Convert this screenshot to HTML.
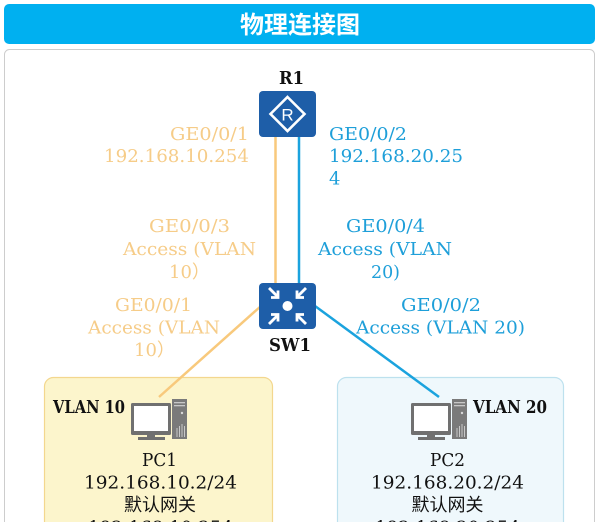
<!DOCTYPE html>
<html>
<head>
<meta charset="utf-8">
<style>
  html, body { margin: 0; padding: 0; background: #ffffff; }
  body { width: 600px; height: 522px; overflow: hidden; }
  svg { display: block; }
  .t { font-family: "DejaVu Serif", "Liberation Serif", "Noto Serif CJK SC", serif; font-size: 18px; }
  .cjk { font-family: "Noto Sans CJK SC", "WenQuanYi Zen Hei", sans-serif; }
</style>
</head>
<body>
<svg width="600" height="522" viewBox="0 0 600 522" xmlns="http://www.w3.org/2000/svg">
  <!-- header -->
  <rect x="4" y="4" width="591" height="40" rx="5" fill="#00b0f0"/>
  <text x="300" y="33" text-anchor="middle" class="cjk" font-size="24" font-weight="bold" fill="#ffffff">物理连接图</text>

  <!-- outer box -->
  <rect x="4.5" y="49.5" width="590" height="490" rx="5" fill="#ffffff" stroke="#cdcdcd" stroke-width="1"/>

  <!-- PC group boxes -->
  <rect x="44.5" y="377.5" width="228" height="200" rx="9" fill="#fcf5cc" stroke="#f3d78e" stroke-width="1.2"/>
  <rect x="337.5" y="377.5" width="226" height="200" rx="9" fill="#eff8fc" stroke="#bde1ee" stroke-width="1.2"/>

  <!-- connectors -->
  <line x1="275.5" y1="137" x2="275.5" y2="284" stroke="#f8c97c" stroke-width="2.5"/>
  <line x1="299" y1="137" x2="299" y2="284" stroke="#1ba3de" stroke-width="2.5"/>
  <line x1="261" y1="306" x2="159" y2="397" stroke="#f8c97c" stroke-width="2.5"/>
  <line x1="315" y1="306" x2="439" y2="397" stroke="#1ba3de" stroke-width="2.5"/>

  <!-- R1 -->
  <text x="279" y="84" class="t" font-size="17" font-weight="bold" fill="#111" textLength="25" lengthAdjust="spacingAndGlyphs">R1</text>
  <rect x="259" y="91" width="57" height="46" rx="4" fill="#1e5ea8"/>
  <polygon points="287.5,97 304.5,114 287.5,131 270.5,114" fill="none" stroke="#ffffff" stroke-width="2.6" stroke-linejoin="miter"/>
  <text x="287.5" y="120.5" text-anchor="middle" font-family="Liberation Sans, sans-serif" font-size="17" fill="#ffffff">R</text>

  <!-- SW1 -->
  <rect x="259" y="283" width="57" height="46" rx="4" fill="#1e5ea8"/>
  <circle cx="287.5" cy="306" r="5" fill="#ffffff"/>
  <g stroke="#ffffff" stroke-width="2.8" fill="none" stroke-linecap="butt">
    <line x1="269" y1="288" x2="278" y2="297"/>
    <polyline points="278,290.5 278,297.5 271,297.5"/>
    <line x1="306" y1="288" x2="297" y2="297"/>
    <polyline points="297,290.5 297,297.5 304,297.5"/>
    <line x1="269" y1="324" x2="278" y2="315"/>
    <polyline points="278,321.5 278,314.5 271,314.5"/>
    <line x1="306" y1="324" x2="297" y2="315"/>
    <polyline points="297,321.5 297,314.5 304,314.5"/>
  </g>
  <text x="269" y="351" class="t" font-size="17" font-weight="bold" fill="#111" textLength="42" lengthAdjust="spacingAndGlyphs">SW1</text>

  <!-- R1 port labels -->
  <g class="t" fill="#f6cc88">
    <text x="170" y="140" textLength="79" lengthAdjust="spacingAndGlyphs">GE0/0/1</text>
    <text x="104" y="162" textLength="145" lengthAdjust="spacingAndGlyphs">192.168.10.254</text>
  </g>
  <g class="t" fill="#1e9fd9">
    <text x="329" y="140" textLength="78" lengthAdjust="spacingAndGlyphs">GE0/0/2</text>
    <text x="329" y="162" textLength="134" lengthAdjust="spacingAndGlyphs">192.168.20.25</text>
    <text x="329" y="184.5">4</text>
  </g>

  <!-- SW1 uplink labels -->
  <g class="t" fill="#f6cc88">
    <text x="149" y="232" textLength="81" lengthAdjust="spacingAndGlyphs">GE0/0/3</text>
    <text x="123" y="255" textLength="133" lengthAdjust="spacingAndGlyphs">Access (VLAN</text>
  </g>
  <text x="169" y="278" class="t" fill="#f6cc88">10<tspan class="cjk">）</tspan></text>
  <g class="t" fill="#1e9fd9">
    <text x="346" y="232" textLength="79" lengthAdjust="spacingAndGlyphs">GE0/0/4</text>
    <text x="318" y="255" textLength="134" lengthAdjust="spacingAndGlyphs">Access (VLAN</text>
    <text x="371" y="278" textLength="29" lengthAdjust="spacingAndGlyphs">20)</text>
  </g>

  <!-- SW1 downlink labels -->
  <g class="t" fill="#f6cc88">
    <text x="115" y="311" textLength="77" lengthAdjust="spacingAndGlyphs">GE0/0/1</text>
    <text x="88" y="333.5" textLength="132" lengthAdjust="spacingAndGlyphs">Access (VLAN</text>
  </g>
  <text x="134" y="356" class="t" fill="#f6cc88">10<tspan class="cjk">）</tspan></text>
  <g class="t" fill="#1e9fd9">
    <text x="401" y="311" textLength="80" lengthAdjust="spacingAndGlyphs">GE0/0/2</text>
    <text x="356" y="333.5" textLength="169" lengthAdjust="spacingAndGlyphs">Access (VLAN 20)</text>
  </g>

  <!-- PC icons -->
  <g>
    <rect x="172" y="399" width="15" height="40" fill="#7a7a7a"/>
    <rect x="174" y="402" width="11" height="1.3" fill="#c8c8c8"/>
    <rect x="174" y="405" width="11" height="1.3" fill="#c8c8c8"/>
    <circle cx="182" cy="413" r="1.2" fill="#d8d8d8"/>
    <g stroke="#c8c8c8" stroke-width="1">
      <line x1="177" y1="428" x2="177" y2="437"/>
      <line x1="179.5" y1="426" x2="179.5" y2="437"/>
      <line x1="182" y1="424" x2="182" y2="437"/>
      <line x1="184.5" y1="426" x2="184.5" y2="437"/>
    </g>
    <rect x="131" y="403" width="40" height="32" rx="1.5" fill="#707070"/>
    <rect x="134" y="406" width="34" height="25" fill="#ffffff"/>
    <rect x="147" y="435" width="8" height="2" fill="#707070"/>
    <rect x="138" y="437" width="27" height="3" fill="#707070"/>
  </g>
  <g transform="translate(280,0)">
    <rect x="172" y="399" width="15" height="40" fill="#7a7a7a"/>
    <rect x="174" y="402" width="11" height="1.3" fill="#c8c8c8"/>
    <rect x="174" y="405" width="11" height="1.3" fill="#c8c8c8"/>
    <circle cx="182" cy="413" r="1.2" fill="#d8d8d8"/>
    <g stroke="#c8c8c8" stroke-width="1">
      <line x1="177" y1="428" x2="177" y2="437"/>
      <line x1="179.5" y1="426" x2="179.5" y2="437"/>
      <line x1="182" y1="424" x2="182" y2="437"/>
      <line x1="184.5" y1="426" x2="184.5" y2="437"/>
    </g>
    <rect x="131" y="403" width="40" height="32" rx="1.5" fill="#707070"/>
    <rect x="134" y="406" width="34" height="25" fill="#ffffff"/>
    <rect x="147" y="435" width="8" height="2" fill="#707070"/>
    <rect x="138" y="437" width="27" height="3" fill="#707070"/>
  </g>

  <!-- VLAN labels -->
  <text x="53" y="413" class="t" font-size="15" font-weight="bold" fill="#111" textLength="72" lengthAdjust="spacingAndGlyphs">VLAN 10</text>
  <text x="473" y="413" class="t" font-size="15" font-weight="bold" fill="#111" textLength="74" lengthAdjust="spacingAndGlyphs">VLAN 20</text>

  <!-- PC1 text -->
  <g class="t" fill="#111">
    <text x="142" y="466" textLength="35" lengthAdjust="spacingAndGlyphs">PC1</text>
    <text x="84" y="488.5" textLength="153" lengthAdjust="spacingAndGlyphs">192.168.10.2/24</text>
    <text x="160" y="511" class="cjk" text-anchor="middle">默认网关</text>
    <text x="88" y="533.5" textLength="145" lengthAdjust="spacingAndGlyphs">192.168.10.254</text>
  </g>
  <!-- PC2 text -->
  <g class="t" fill="#111">
    <text x="430" y="466" textLength="35" lengthAdjust="spacingAndGlyphs">PC2</text>
    <text x="371" y="488.5" textLength="153" lengthAdjust="spacingAndGlyphs">192.168.20.2/24</text>
    <text x="447.5" y="511" class="cjk" text-anchor="middle">默认网关</text>
    <text x="375" y="533.5" textLength="145" lengthAdjust="spacingAndGlyphs">192.168.20.254</text>
  </g>
</svg>
</body>
</html>
